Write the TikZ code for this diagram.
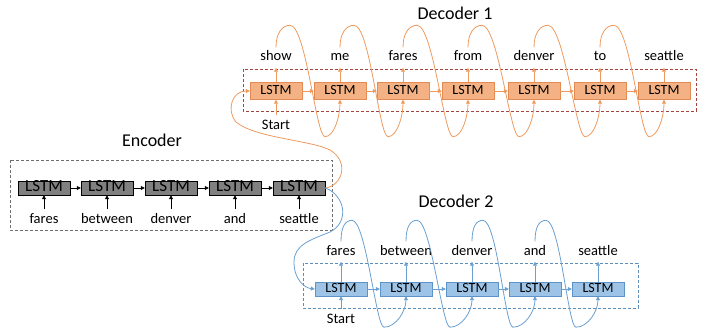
\documentclass[tikz,border=0pt]{standalone}
\usepackage{fontspec}
\setmainfont{Carlito}
\usetikzlibrary{arrows.meta,calc}
\definecolor{orangefill}{HTML}{F4B183}
\definecolor{orangeedge}{HTML}{E38B55}
\definecolor{orangeline}{HTML}{EE9A5E}
\definecolor{redframe}{HTML}{A8443F}
\definecolor{bluefill}{HTML}{9DC3E6}
\definecolor{blueedge}{HTML}{5E93C8}
\definecolor{blueline}{HTML}{6A9FD2}
\definecolor{blueframe}{HTML}{5B8DB8}
\definecolor{grayfill}{HTML}{808080}
\definecolor{grayframe}{HTML}{6E6E6E}

\tikzset{
  lstm/.style={draw, minimum width=52pt, inner sep=0pt, text height=0.63em, text depth=0pt},
  lstmO/.style={lstm, fill=orangefill, draw=orangeedge, minimum height=17pt, font=\fontsize{14}{14}\selectfont},
  lstmG/.style={lstm, fill=grayfill, draw=black, minimum height=14pt, font=\fontsize{17}{17}\selectfont},
  lstmB/.style={lstm, fill=bluefill, draw=blueedge, minimum height=14pt, font=\fontsize{14}{14}\selectfont},
  word/.style={anchor=base, inner sep=3.5pt, text height=10pt, text depth=3pt, font=\fontsize{14.5}{15}\selectfont},
  title/.style={font=\fontsize{18}{18}\selectfont},
  tip/.style={-{Triangle[length=4pt,width=4pt]}},
  frame/.style={dash pattern=on 3pt off 2pt, line width=0.8pt},
  loopO/.style={tip, draw=orangeline, fill=none, line width=0.8pt},
  loopB/.style={tip, draw=blueline, fill=none, line width=0.8pt},
}

\begin{document}
\begin{tikzpicture}[x=1pt, y=-1pt]
  \useasboundingbox (0,0) rectangle (701,329);

  % frames
  \draw[frame, redframe] (243,69) rectangle (696,111);
  \draw[frame, grayframe] (10,160) rectangle (332,230);
  \draw[frame, blueframe] (303,263) rectangle (638,308);

  % titles
  \node[title] (titleA) at (455,13) {Decoder 1};
  \node[title] (titleE) at (152,140) {Encoder};
  \node[title] (titleB) at (456,201) {Decoder 2};

  % encoder
  \foreach \x/\w [count=\i] in {44/fares, 107/between, 171/denver, 235/and, 299/seattle} {
    \node[lstmG] (enc\i) at (\x,188) {LSTM};
    \node[word] (encw\i) at (\x,223) {\w};
    \draw[tip, black, line width=0.8pt] (encw\i.north) -- (enc\i.south);
  }
  \foreach \i [count=\j from 2] in {1,...,4}
    \draw[tip, black, line width=0.8pt] (enc\i.east) -- (enc\j.west);

  % decoder 1
  \foreach \x/\w [count=\i] in {276/show, 340/me, 403/fares, 468/from, 534/denver, 600/to, 664/seattle} {
    \node[lstmO] (dA\i) at (\x,91) {LSTM};
    \node[word] (wA\i) at (\x,61) {\w};
    \draw[tip, orangeline, line width=0.8pt] (dA\i.north) -- (wA\i.south);
  }
  \foreach \i [count=\j from 2] in {1,...,6}
    \draw[tip, orangeline, line width=0.8pt] (dA\i.east) -- (dA\j.west);
  \node[word] (startA) at (276,129) {Start};
  \draw[tip, orangeline, line width=0.8pt] (startA.north) -- (dA1.south);
  \foreach \i [count=\j from 2] in {1,...,6}
    \draw[loopO] (wA\i.north) .. controls +(0,-14) and +(-8,0) .. ($(wA\i.north)+(14,-22)$)
      .. controls +(16,0) and +(-9,0) .. ($(dA\j.south)+(-15,37)$)
      .. controls +(9,0) and +(0,17) .. (dA\j.south);

  % decoder 2
  \foreach \x/\w [count=\i] in {341/fares, 406/between, 472/denver, 535/and, 598/seattle} {
    \node[lstmB] (dB\i) at (\x,289) {LSTM};
    \node[word] (wB\i) at (\x,255) {\w};
    \draw[tip, blueline, line width=0.8pt] (dB\i.north) -- (wB\i.south);
  }
  \foreach \i [count=\j from 2] in {1,...,4}
    \draw[tip, blueline, line width=0.8pt] (dB\i.east) -- (dB\j.west);
  \node[word] (startB) at (341,323) {Start};
  \draw[tip, blueline, line width=0.8pt] (startB.north) -- (dB1.south);
  \foreach \i [count=\j from 2] in {1,...,4}
    \draw[loopB] (wB\i.north) .. controls +(0,-14) and +(-7,0) .. ($(wB\i.north)+(11,-21)$)
      .. controls +(14,0) and +(-8,0) .. ($(dB\j.south)+(-22,31)$)
      .. controls +(12,0) and +(0,15) .. (dB\j.south);

  % encoder to decoders
  \draw[loopO] (enc5.east) .. controls (342,186) and (350,162) .. (330,150)
    .. controls (310,140) and (255,138) .. (236,122)
    .. controls (226,110) and (232,91) .. (dA1.west);
  \draw[loopB] (enc5.east) .. controls (345,195) and (350,222) .. (330,232)
    .. controls (310,240) and (294,245) .. (294,262)
    .. controls (294,280) and (305,288) .. (dB1.west);
\end{tikzpicture}
\end{document}
